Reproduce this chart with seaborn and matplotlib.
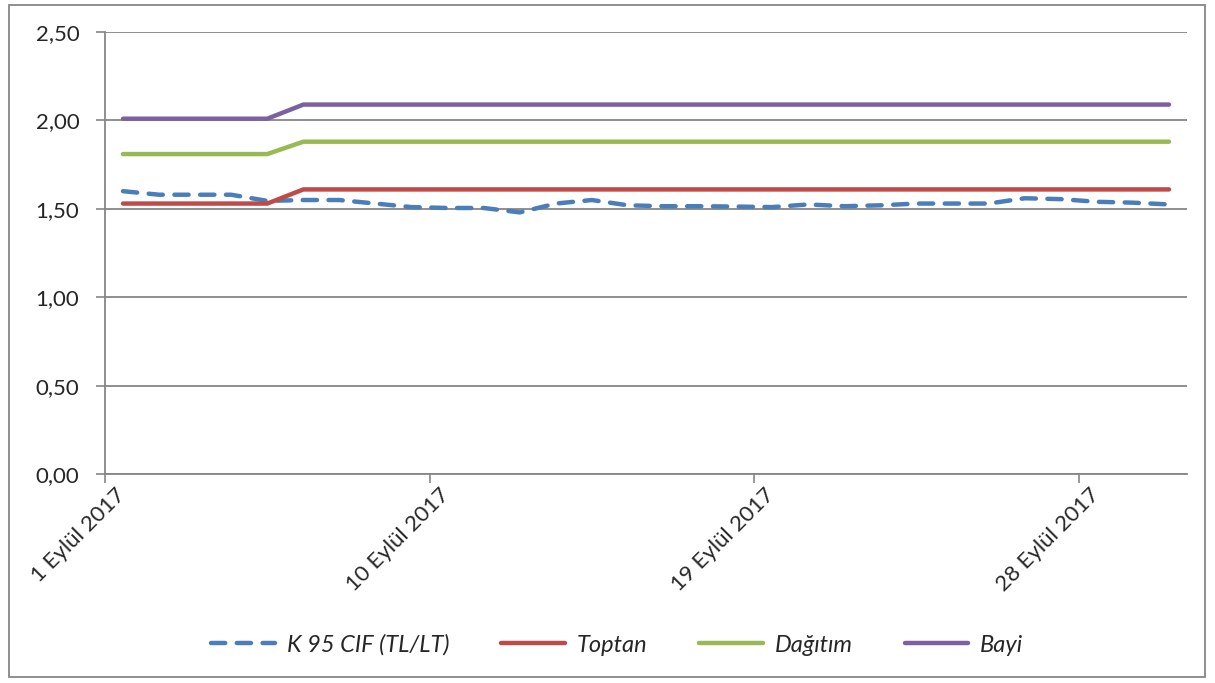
import numpy as np
import pandas as pd
import seaborn as sns
import matplotlib.pyplot as plt
import matplotlib.transforms as mtransforms
from matplotlib.patches import Rectangle

# Data (Eylül 2017, daily)
days = list(range(1, 31))
k95_cif = [1.60, 1.58, 1.58, 1.58, 1.545, 1.55, 1.55, 1.53, 1.51, 1.505,
           1.505, 1.48, 1.53, 1.55, 1.52, 1.515, 1.515, 1.513, 1.51, 1.525,
           1.515, 1.52, 1.53, 1.53, 1.53, 1.56, 1.555, 1.54, 1.535, 1.525]
toptan = [1.53] * 5 + [1.61] * 25
dagitim = [1.81] * 5 + [1.88] * 25
bayi = [2.01] * 5 + [2.09] * 25

series_names = ["K 95 CIF (TL/LT)", "Toptan", "Dağıtım", "Bayi"]
series_vals = [k95_cif, toptan, dagitim, bayi]
colors = ["#4A7EBB", "#BE4B48", "#98B954", "#7D60A0"]
tick_days = [1, 10, 19, 28]
tick_labels = ["1 Eylül 2017", "10 Eylül 2017", "19 Eylül 2017", "28 Eylül 2017"]
y_ticks = [0.0, 0.5, 1.0, 1.5, 2.0, 2.5]

sns.set_style("white")
plt.rcParams["font.family"] = ["Lato", "DejaVu Sans"]

fig = plt.figure(figsize=(12.15, 6.83), dpi=100)
ax = fig.add_axes([0.0864, 0.306, 0.8906, 0.647])

for name, vals, c in zip(series_names, series_vals, colors):
    ls = (0, (3.2, 2.6)) if name.startswith("K 95") else "-"
    sns.lineplot(x=days, y=vals, ax=ax, color=c, lw=3.2, linestyle=ls,
                 label=name, solid_capstyle="round", dash_capstyle="round")

ax.set_xlim(0.5, 30.5)
ax.set_ylim(0, 2.5)

ax.grid(axis="y", color="#868686", lw=1.3)
ax.set_axisbelow(True)
for s in ["top", "right"]:
    ax.spines[s].set_visible(False)
for s in ["left", "bottom"]:
    ax.spines[s].set_color("#868686")
    ax.spines[s].set_linewidth(1.3)
ax.tick_params(axis="both", direction="out", length=6.5, width=1.2,
               color="#868686", left=True, bottom=True)
ax.tick_params(axis="y", pad=12)
ax.tick_params(axis="x", pad=5)
ax.set_xlabel("")
ax.set_ylabel("")

ax.set_yticks(y_ticks)
ax.set_yticklabels([f"{v:.2f}".replace(".", ",") for v in y_ticks], fontsize=16)
ax.set_xticks([d - 0.5 for d in tick_days])
ax.set_xticklabels(tick_labels, rotation=45, ha="right", va="center",
                   rotation_mode="anchor", fontsize=16)
# shift the rotated labels so they end just right of the tick
offset = mtransforms.ScaledTranslation(0.17, -0.02, fig.dpi_scale_trans)
for lab in ax.get_xticklabels():
    lab.set_transform(lab.get_transform() + offset)

ax.legend(loc="center", bbox_to_anchor=(0.508, 0.056),
          bbox_transform=fig.transFigure, ncol=4, frameon=False,
          prop={"style": "italic", "size": 17}, handlelength=2.7,
          columnspacing=2.2, handletextpad=0.5)

fig.patches.append(Rectangle((0.007, 0.009), 0.985, 0.984, fill=False,
                             edgecolor="#868686", lw=1.3,
                             transform=fig.transFigure, figure=fig))

fig.savefig("out.png", dpi=100)
